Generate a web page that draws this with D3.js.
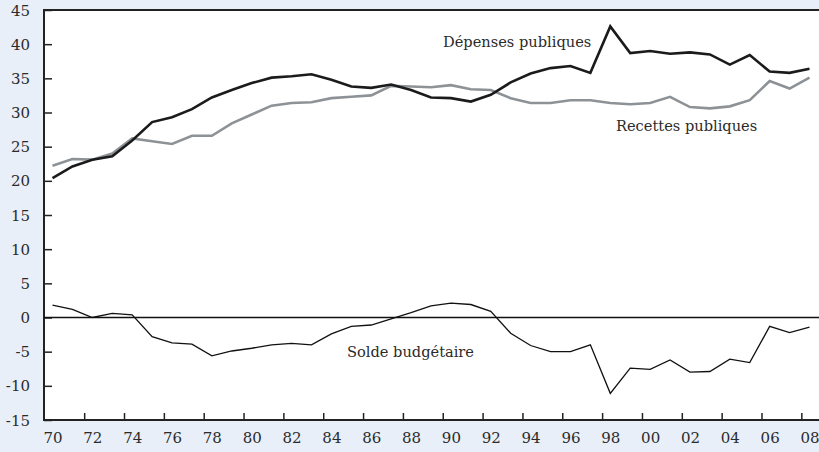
<!DOCTYPE html>
<html>
<head>
<meta charset="utf-8">
<script src="https://cdn.jsdelivr.net/npm/d3@7"></script>
<style>
  body { margin: 0; background: #e8eff9; }
  svg { display: block; }
</style>
</head>
<body>
<div id="container"></div>
<script>
let w = 819;
let h = 452;
let serif = "DejaVu Serif";

// data, 1970 to 2008
let years = d3.range(1970, 2009);
let depenses = [20.4, 22.1, 23.1, 23.6, 25.9, 28.6, 29.3, 30.5, 32.2, 33.3, 34.3, 35.1, 35.3, 35.6,
  34.8, 33.8, 33.6, 34.1, 33.3, 32.2, 32.1, 31.6, 32.6, 34.4, 35.7, 36.5, 36.8, 35.8, 42.6, 38.7,
  39.0, 38.6, 38.8, 38.5, 37.0, 38.4, 36.0, 35.8, 36.4];
let recettes = [22.2, 23.2, 23.1, 24.0, 26.2, 25.8, 25.4, 26.6, 26.6, 28.4, 29.7, 31.0, 31.4, 31.5,
  32.1, 32.3, 32.5, 33.9, 33.8, 33.7, 34.0, 33.4, 33.3, 32.1, 31.4, 31.4, 31.8, 31.8, 31.4, 31.2,
  31.4, 32.3, 30.8, 30.6, 30.9, 31.8, 34.6, 33.5, 35.1];
let solde = [1.8, 1.2, 0.0, 0.6, 0.4, -2.8, -3.7, -3.9, -5.6, -4.9, -4.5, -4.0, -3.8, -4.0,
  -2.4, -1.3, -1.1, -0.2, 0.7, 1.7, 2.1, 1.9, 0.9, -2.3, -4.1, -5.0, -5.0, -4.0, -11.1, -7.4,
  -7.6, -6.2, -8.0, -7.9, -6.1, -6.6, -1.3, -2.2, -1.4];
let yTicks = [-15, -10, -5, 0, 5, 10, 15, 20, 25, 30, 35, 40, 45];
let xTicks = d3.range(1970, 2009, 2);

let viz = d3.select("#container").append("svg")
    .attr("width", w)
    .attr("height", h);

let mLeft = 44, mTop = 10, mBottom = 420, mRight = 819;

viz.append("rect")
    .attr("x", mLeft).attr("y", mTop)
    .attr("width", mRight - mLeft).attr("height", mBottom - mTop)
    .attr("fill", "white");

let x = d3.scaleLinear().domain([1970, 2008]).range([52.5, 809.5]);
let y = d3.scaleLinear().domain([-15, 45]).range([mBottom, mTop]);

// y axis: inward ticks, labels on the left (plain hyphen for negatives)
let yAxis = viz.append("g")
    .attr("transform", "translate(" + mLeft + ",0)")
    .call(d3.axisLeft(y).tickValues(yTicks).tickFormat(d => String(d))
      .tickSizeInner(-8).tickSizeOuter(0).tickPadding(14));
yAxis.attr("font-family", serif);
yAxis.select(".domain").remove();
yAxis.selectAll("line").attr("stroke", "#222").attr("stroke-width", 1.5);
yAxis.selectAll("text").attr("font-size", 15).attr("fill", "#2b2b2b").attr("dy", "0.34em");

// x axis: ticks sit between the years, labels on the years
let xTickAxis = viz.append("g")
    .attr("transform", "translate(0," + mBottom + ")")
    .call(d3.axisBottom(x).tickValues(xTicks.slice(1).map(d => d - 0.41)).tickFormat("").tickSizeInner(-7).tickSizeOuter(0));
xTickAxis.select(".domain").remove();
xTickAxis.selectAll("line").attr("stroke", "#222").attr("stroke-width", 1.5);

let xLabAxis = viz.append("g")
    .attr("transform", "translate(0," + mBottom + ")")
    .call(d3.axisBottom(x).tickValues(xTicks).tickFormat(d => String(d).slice(2)).tickSize(0).tickPadding(12));
xLabAxis.attr("font-family", serif);
xLabAxis.select(".domain").remove();
xLabAxis.selectAll("text").attr("font-size", 15).attr("fill", "#2b2b2b");

// frame
viz.append("path")
    .attr("d", "M" + mRight + "," + mTop + "H" + mLeft + "V" + mBottom + "H" + mRight)
    .attr("fill", "none")
    .attr("stroke", "#222")
    .attr("stroke-width", 2);

// zero line
viz.append("line")
    .attr("x1", mLeft).attr("x2", mRight)
    .attr("y1", y(0)).attr("y2", y(0))
    .attr("stroke", "#111")
    .attr("stroke-width", 1.3);

let line = d3.line().x((d, i) => x(years[i])).y(d => y(d));

viz.append("path").datum(recettes)
    .attr("d", line)
    .attr("fill", "none")
    .attr("stroke", "#8d9297")
    .attr("stroke-width", 2.6);

viz.append("path").datum(depenses)
    .attr("d", line)
    .attr("fill", "none")
    .attr("stroke", "#1b1b1b")
    .attr("stroke-width", 2.6);

viz.append("path").datum(solde)
    .attr("d", line)
    .attr("fill", "none")
    .attr("stroke", "#111")
    .attr("stroke-width", 1.3);

// labels
let labels = [
  {t: "Dépenses publiques", x: 443, y: 47},
  {t: "Recettes publiques", x: 616, y: 131},
  {t: "Solde budgétaire", x: 347, y: 357}
];
viz.selectAll(".lab").data(labels).enter()
  .append("text")
    .attr("class", "lab")
    .attr("x", d => d.x)
    .attr("y", d => d.y)
    .attr("font-size", 14.6)
    .attr("font-family", serif)
    .attr("fill", "#2b2b2b")
    .text(d => d.t);
</script>
</body>
</html>
